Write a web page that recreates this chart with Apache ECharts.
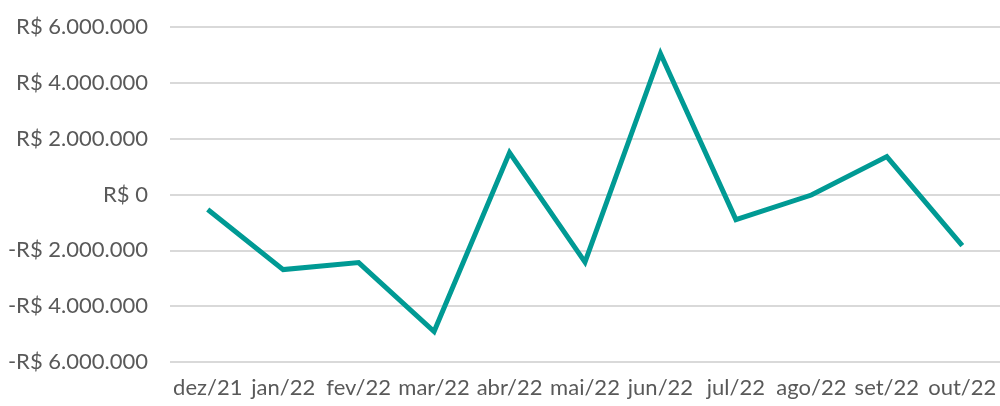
<!DOCTYPE html>
<html>
<head>
<meta charset="utf-8">
<script src="https://cdn.jsdelivr.net/npm/echarts@6/dist/echarts.min.js"></script>
<style>
  html, body { margin: 0; padding: 0; background: #fff; }
  #chart { width: 1000px; height: 406px; }
</style>
</head>
<body>
<div id="chart"></div>
<script>
// meses e saldo mensal (R$)
const months = ['dez/21', 'jan/22', 'fev/22', 'mar/22', 'abr/22', 'mai/22', 'jun/22', 'jul/22', 'ago/22', 'set/22', 'out/22'];
const saldo = [-540000, -2690000, -2440000, -4910000, 1500000, -2420000, 5050000, -900000, -20000, 1360000, -1830000];
const yTicks = [-6000000, -4000000, -2000000, 0, 2000000, 4000000, 6000000];

const fmtBRL = (v) => {
    const s = Math.abs(v).toString().replace(/\B(?=(\d{3})+(?!\d))/g, '.');
    return (v < 0 ? '-' : '') + 'R$ ' + s;
};

const chart = echarts.init(document.getElementById('chart'));
chart.setOption({
    animation: false,
    backgroundColor: '#fff',
    grid: { left: 170, right: -2, top: 27, bottom: 44 },
    xAxis: {
        type: 'category',
        data: months,
        boundaryGap: true,
        axisLine: { show: false },
        axisTick: { show: false },
        axisLabel: {
            color: '#595959',
            fontSize: 22,
            fontFamily: 'Lato, "Open Sans", sans-serif',
            margin: 15,
            interval: 0
        }
    },
    yAxis: {
        type: 'value',
        min: yTicks[0],
        max: yTicks[yTicks.length - 1],
        interval: 2000000,
        axisLine: { show: false },
        axisTick: { show: false },
        splitLine: { lineStyle: { color: '#d9d9d9', width: 2 } },
        axisLabel: {
            color: '#595959',
            fontSize: 22,
            fontFamily: 'Lato, "Open Sans", sans-serif',
            margin: 22,
            formatter: fmtBRL
        }
    },
    series: [{
        type: 'line',
        data: saldo,
        symbol: 'none',
        lineStyle: { color: '#009a94', width: 5, join: 'miter' },
        itemStyle: { color: '#009a94' }
    }]
});
</script>
</body>
</html>
